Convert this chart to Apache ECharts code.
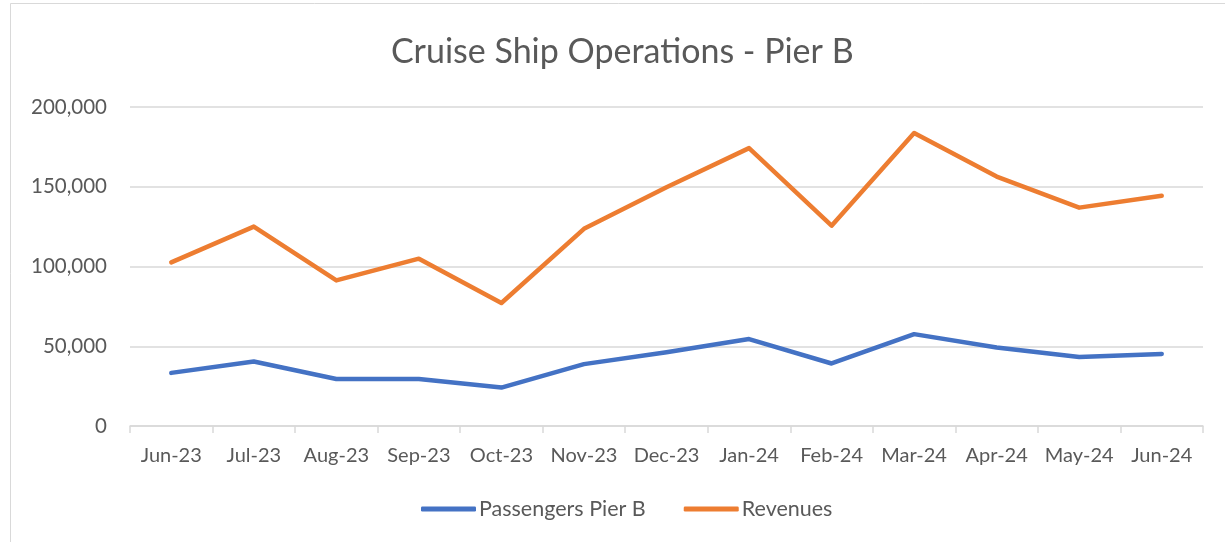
<!DOCTYPE html>
<html>
<head>
<meta charset="utf-8">
<script src="https://cdn.jsdelivr.net/npm/echarts@6/dist/echarts.min.js"></script>
<style>
  html, body { margin: 0; padding: 0; background: #fff; }
  #chart { width: 1225px; height: 542px; }
</style>
</head>
<body>
<div id="chart"></div>
<script>
// months on the x axis
const months = ["Jun-23", "Jul-23", "Aug-23", "Sep-23", "Oct-23", "Nov-23", "Dec-23",
  "Jan-24", "Feb-24", "Mar-24", "Apr-24", "May-24", "Jun-24"];
// values
const passengers = [33300, 40400, 29500, 29500, 24100, 38800, 46300,
  54500, 39200, 57600, 49200, 43200, 45200];
const revenues = [102600, 125000, 91300, 104900, 77100, 123600, 149700,
  174200, 125600, 183700, 156400, 136900, 144300];

const textColor = "#595959";
const font = "Lato";

const myChart = echarts.init(document.getElementById("chart"));
const option = {
  backgroundColor: "#fff",
  animation: false,
  title: {
    text: "Cruise Ship Operations - Pier B",
    left: 386,
    top: 30,
    textStyle: {
      color: textColor,
      fontFamily: font,
      fontWeight: "normal",
      fontSize: 34
    }
  },
  graphic: [
    {
      // chart border
      type: "rect",
      shape: { x: 10.5, y: 3.5, width: 1300, height: 700 },
      style: { fill: "none", stroke: "#d9d9d9", lineWidth: 1 },
      silent: true
    }
  ],
  grid: {
    left: 130,
    right: 22,
    top: 107,
    bottom: 116
  },
  legend: {
    bottom: 17,
    left: 416,
    icon: "roundRect",
    itemWidth: 55,
    itemHeight: 5,
    itemGap: 38,
    textStyle: {
      color: textColor,
      fontFamily: font,
      fontSize: 21.5,
      padding: [0, 0, 0, -2]
    },
    data: ["Passengers Pier B", "Revenues"]
  },
  xAxis: {
    type: "category",
    data: months,
    boundaryGap: true,
    axisLine: { lineStyle: { color: "#d9d9d9", width: 1.5 } },
    axisTick: { show: true, interval: 0, length: 7, lineStyle: { color: "#d9d9d9", width: 1.5 } },
    axisLabel: {
      interval: 0,
      color: textColor,
      fontFamily: font,
      fontSize: 20,
      margin: 20
    }
  },
  yAxis: {
    type: "value",
    min: 0,
    max: 200000,
    interval: 50000,
    axisLine: { show: false },
    axisTick: { show: false },
    splitLine: { lineStyle: { color: "#d9d9d9", width: 1.5 } },
    axisLabel: {
      color: textColor,
      fontFamily: font,
      fontSize: 20.5,
      margin: 23,
      formatter: v => v.toLocaleString("en-US")
    }
  },
  series: [
    {
      name: "Passengers Pier B",
      type: "line",
      data: passengers,
      symbol: "none",
      color: "#4472C4",
      lineStyle: { width: 4.5, cap: "round", join: "round" }
    },
    {
      name: "Revenues",
      type: "line",
      data: revenues,
      symbol: "none",
      color: "#ED7D31",
      lineStyle: { width: 4.5, cap: "round", join: "round" }
    }
  ]
};
myChart.setOption(option);
</script>
</body>
</html>
